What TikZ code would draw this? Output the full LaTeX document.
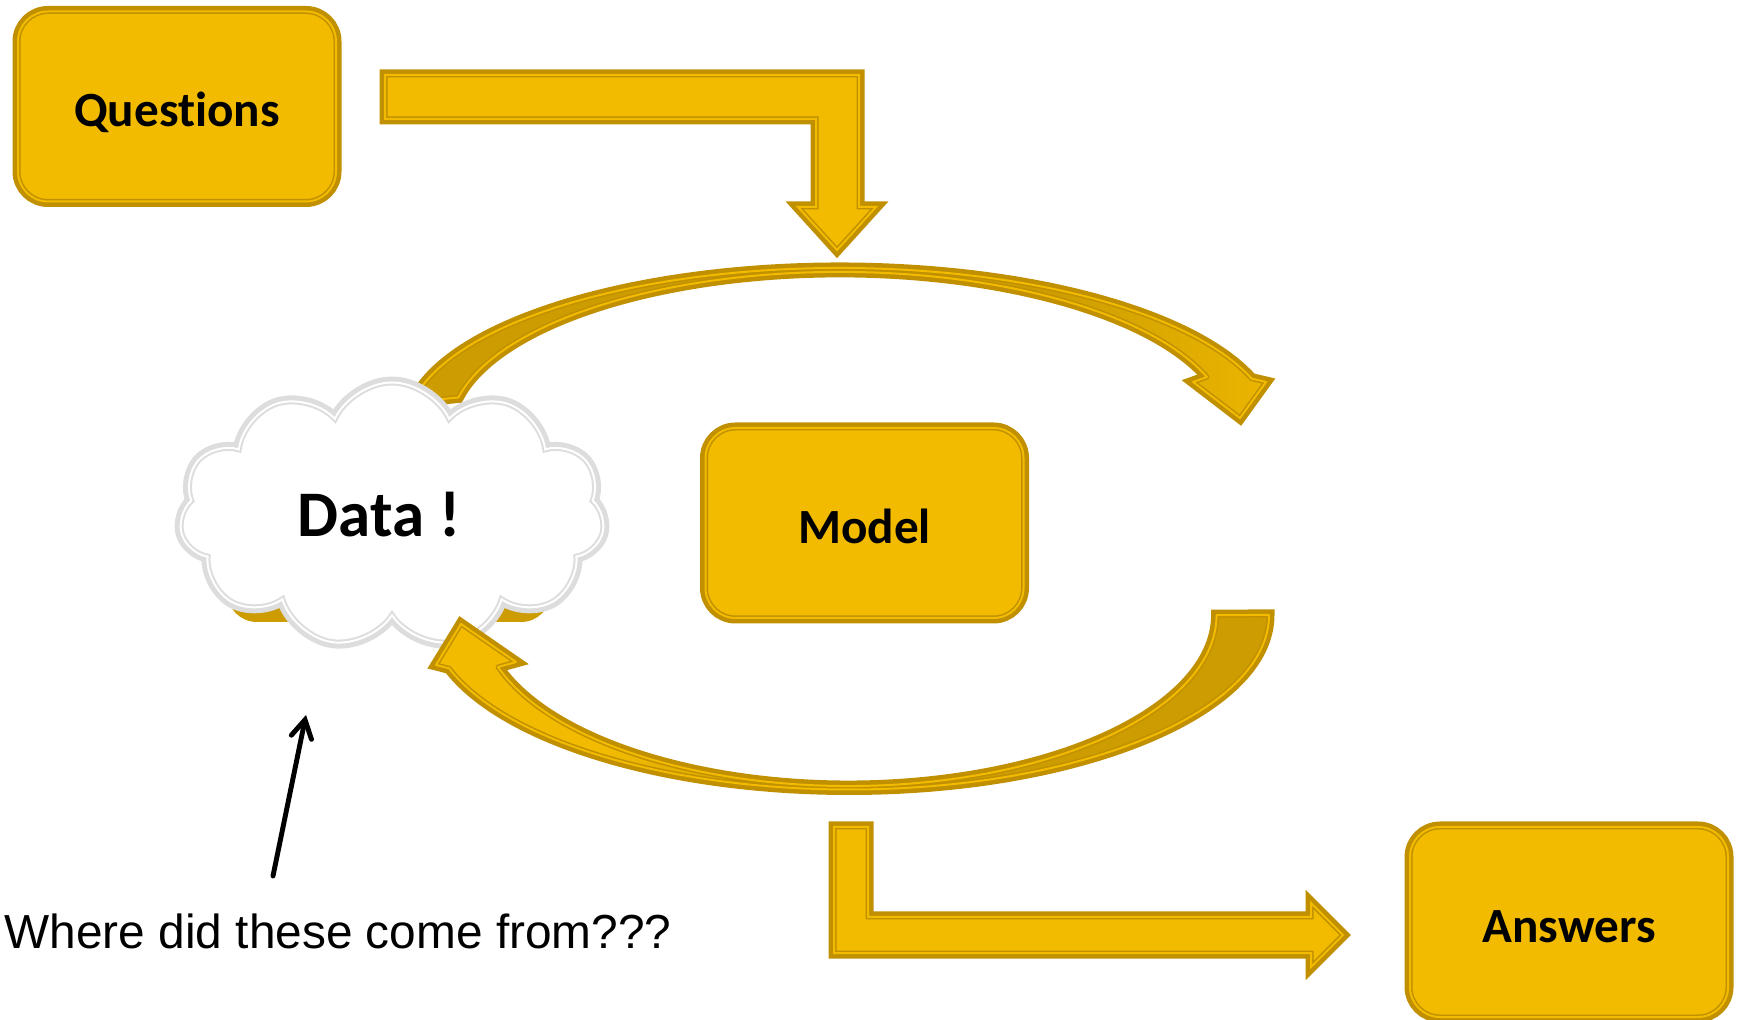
\documentclass[tikz,border=0pt]{standalone}
\usepackage{fontspec}
\usetikzlibrary{arrows,shapes,positioning}
\newfontfamily\labelfamily{Carlito}[Ligatures=NoCommon]
\newfontfamily\notefamily{Liberation Sans}
\definecolor{qgold}{RGB}{242,187,0}
\definecolor{qedge}{RGB}{192,144,0}
\definecolor{qdark}{RGB}{204,156,0}
\definecolor{cloudgray}{RGB}{221,221,221}
\pgfdeclarehorizontalshading{darktogold}{100bp}{color(0bp)=(qdark); color(62bp)=(qdark); color(78bp)=(qgold); color(100bp)=(qgold)}
\pgfdeclarehorizontalshading{goldtodark}{100bp}{color(0bp)=(qgold); color(35bp)=(qgold); color(48bp)=(qdark); color(100bp)=(qdark)}
\tikzset{
  rimmed/.style 2 args={fill=#1, draw=#2, line width=0.015cm, double=#1,
    double distance=0.02cm, preaction={draw=#2, line width=0.11cm}},
  box/.style={rimmed={qgold}{qedge}, rounded corners=0.3cm, minimum width=3.18cm,
    minimum height=1.90cm, inner sep=0pt, text height=0.41cm, text depth=0pt,
    font=\labelfamily\bfseries\fontsize{14}{16}\selectfont},
  blockarrow/.style={rimmed={qgold}{qedge}},
  arcband/.style={shade, shading=#1, draw=qedge, line width=0.015cm, double=qgold,
    double distance=0.02cm, preaction={draw=qedge, line width=0.11cm}, line join=round},
  datacloud/.style={cloud, cloud puffs=11, cloud puff arc=130, aspect=1.6,
    minimum width=4.25cm, minimum height=2.65cm, fill=white, draw=cloudgray,
    line width=0.02cm, double=white, double distance=0.02cm,
    preaction={draw=cloudgray, line width=0.12cm},
    font=\labelfamily\bfseries\fontsize{18.5}{22}\selectfont},
  pointer/.style={->, >=angle 60, line width=1.4pt, line cap=round},
  note/.style={anchor=west, inner sep=0pt, font=\notefamily\fontsize{13.6}{16}\selectfont}
}
\begin{document}
\begin{tikzpicture}
    \useasboundingbox (0,0) rectangle (17.38,-10.20);
    % back part of the lower loop, behind the cloud
    \fill [qdark, rounded corners=0.3cm] (2.27,-5.2) rectangle (5.51,-6.22);
    % upper loop
    \path [arcband=darktogold] (8.40,-4.30) ++(170:4.34 and 1.62)
        arc [start angle=170, end angle=18.5, x radius=4.34, y radius=1.62]
        -- (12.66,-3.82) -- (12.40,-4.18) -- (11.93,-3.82) -- (12.07,-3.77)
        arc [start angle=19.7, end angle=168, x radius=3.90, y radius=1.585] -- cycle;
    \node [datacloud] (data) at (3.92,-5.15) {\hspace*{-0.26cm}Data !};
    % lower loop
    \path [arcband=goldtodark] (12.69,-6.15)
        arc [start angle=0, end angle=-162.2, x radius=4.20, y radius=1.745]
        -- (4.36,-6.65) -- (4.61,-6.24) -- (5.16,-6.62) -- (4.98,-6.67)
        arc [start angle=-162.3, end angle=0, x radius=3.68, y radius=1.71] -- cycle;
    \node [box] (qst) at (1.77,-1.065) {Questions};
    \node [box] (mdl) at (8.645,-5.23) {Model};
    \node [box] (ans) at (15.69,-9.22) {Answers};
    % bent arrows
    \path [blockarrow] (3.85,-0.75) -- (8.59,-0.75) -- (8.59,-2.07) -- (8.76,-2.07)
        -- (8.37,-2.50) -- (7.98,-2.07) -- (8.16,-2.07) -- (8.16,-1.19) -- (3.85,-1.19) -- cycle;
    \path [blockarrow] (8.34,-8.27) -- (8.68,-8.27) -- (8.68,-9.17) -- (13.11,-9.17)
        -- (13.11,-9.03) -- (13.43,-9.35) -- (13.11,-9.67) -- (13.11,-9.53) -- (8.34,-9.53) -- cycle;
    % note
    \node [note] (where) at (0.04,-9.31) {Where did these come from???};
    \coordinate (tail) at (2.73,-8.76);
    \coordinate (tip) at (3.06,-7.15);
    \draw [pointer] (tail) -- (tip);
\end{tikzpicture}
\end{document}
